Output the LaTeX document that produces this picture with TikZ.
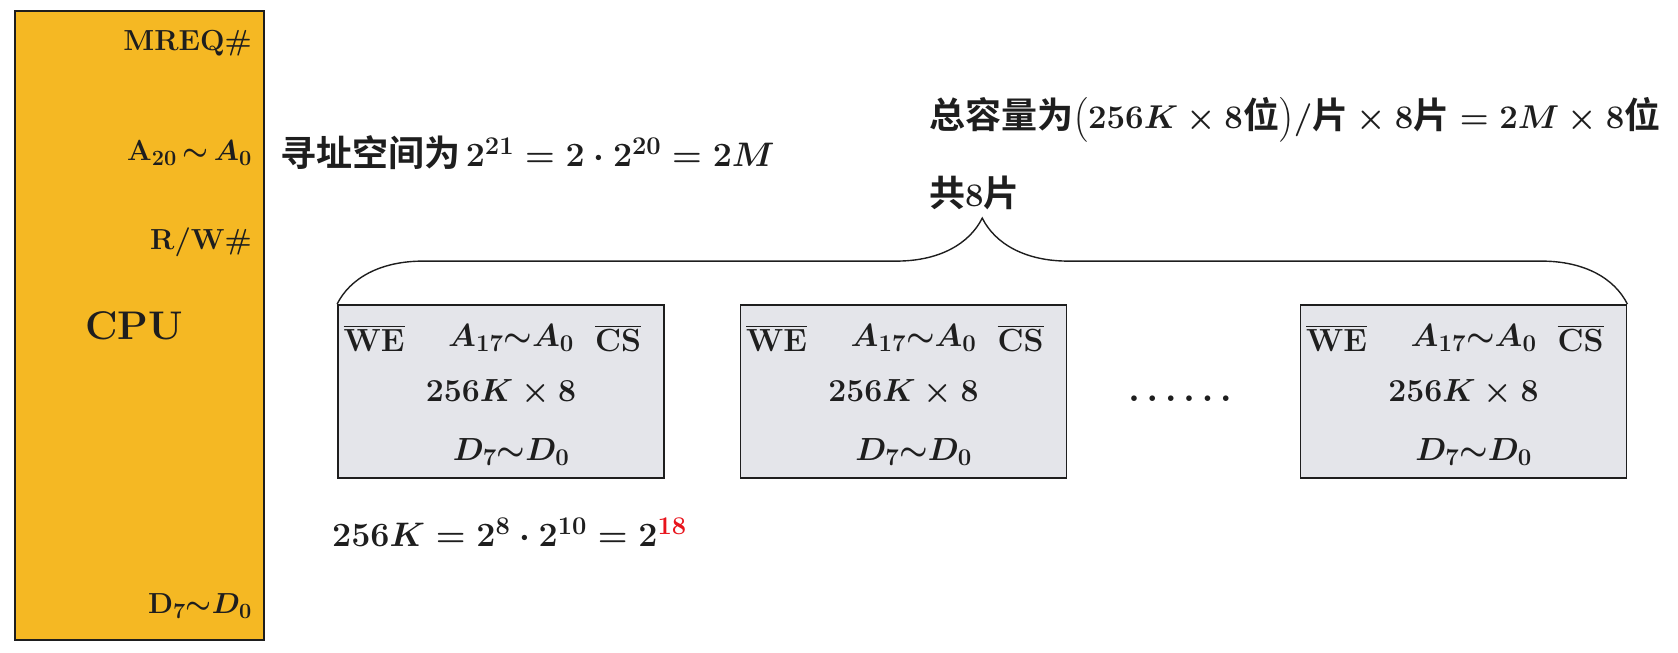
\RequirePackage{fix-cm}
\documentclass[tikz,border=0pt]{standalone}
\usepackage{fontspec}
\usepackage{amsmath}
\newfontfamily\cjk{Noto Sans CJK SC}[BoldFont={* Bold}]
\renewcommand\defaultscriptratio{.75}
\newcommand\zh[1]{{\fontsize{36}{40}\selectfont\cjk #1}}
\definecolor{cpugold}{HTML}{F5B823}
\definecolor{chipgray}{HTML}{E4E5EA}
\definecolor{ink}{HTML}{1E1E1E}
\definecolor{hot}{HTML}{E8141C}
\usetikzlibrary{positioning, calc, decorations.pathreplacing}
\tikzset{
  cpubox/.style={draw=ink, fill=cpugold, line width=1.8pt, minimum width=249pt,
                 minimum height=629pt, inner sep=0pt},
  chip/.style={draw=ink, fill=chipgray, line width=1.8pt, minimum width=326pt,
               minimum height=173pt, inner sep=0pt},
  pin/.style={font=\fontsize{29}{34}\selectfont\bfseries\boldmath, anchor=east, inner sep=0pt, text=ink},
  lbl/.style={font=\fontsize{32}{38}\selectfont\bfseries\boldmath, inner sep=0pt, text=ink},
  note/.style={font=\fontsize{33}{38}\selectfont\bfseries\boldmath, inner sep=0pt, text=ink, anchor=west},
  eqn/.style={font=\fontsize{34}{40}\selectfont\bfseries\boldmath, inner sep=0pt, text=ink, anchor=west},
  bracket/.style={decorate, decoration={brace, amplitude=86pt}, line width=1.4pt, draw=ink},
}

\begin{document}
\begin{tikzpicture}[x=1pt, y=-1pt]
  \useasboundingbox (0,0) rectangle (1678,653);
  \node[cpubox] (cpu) at (139.5,325.5) {};
  \node[lbl, font=\fontsize{40}{46}\selectfont\bfseries] (cpuname) at (134,326) {CPU};
  \node[pin] (mreq) at (252,43) {MREQ\#};
  \node[pin] (addr) at (252,153) {A$_{\mathbf{20}}\,{\sim}\,A_0$};
  \node[pin] (rw) at (252,242) {R/W\#};
  \node[pin] (data) at (252,606) {D$_{\mathbf{7}}{\sim}D_0$};
  \node[eqn] (space) at (280,153) {\zh{寻址空间为}\,$2^{21}=2\cdot2^{20}=2M$};
  \node[note] (total) at (929,120) {\zh{总容量为}$\bigl(256K\times8$\zh{位}$\bigr)/$\zh{片}${}\times8$\zh{片}${}=2M\times8$\zh{位}};
  \node[note] (count) at (929,193) {\zh{共}\textbf{8}\zh{片}};
  % three of the eight chips
  \foreach \n/\x in {1/501, 2/903.5, 3/1463.5} {
    \node[chip] (chip\n) at (\x,391.5) {};
    \node[lbl] (we\n) at ([xshift=37pt,yshift=-34pt]chip\n.north west) {$\overline{\mathbf{WE}}$};
    \node[lbl] (adr\n) at ([xshift=174pt,yshift=-34pt]chip\n.north west) {$A_{17}{\sim}A_0$};
    \node[lbl] (cs\n) at ([xshift=281pt,yshift=-34pt]chip\n.north west) {$\overline{\mathbf{CS}}$};
    \node[lbl] (size\n) at ([yshift=-89pt]chip\n.north) {$256K\times8$};
    \node[lbl] (bus\n) at ([xshift=174pt,yshift=-148pt]chip\n.north west) {$D_7{\sim}D_0$};
  }
  \node[lbl, font=\fontsize{36}{40}\selectfont\bfseries\boldmath] (dots) at (1180,399) {$\ldots\ldots$};
  \draw[bracket] (chip1.north west) -- (chip3.north east);
  \node[eqn] (calc) at (332,532) {$256K=2^8\cdot2^{10}=2^{\textcolor{hot}{\mathbf{18}}}$};
\end{tikzpicture}
\end{document}
